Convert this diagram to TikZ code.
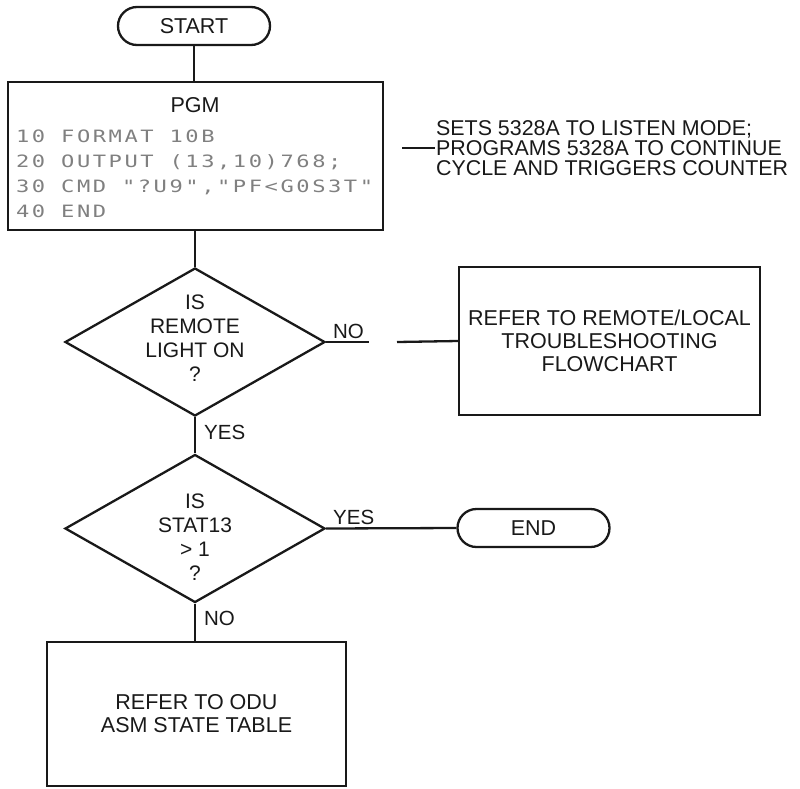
\documentclass[tikz,border=0pt]{standalone}
\usepackage{fontspec}
\setmainfont{Liberation Sans}
\newfontfamily\codefont{DejaVu Sans Mono}[FakeStretch=1.3,LetterSpace=15]
\usepackage{tikz}
\usetikzlibrary{shapes.geometric}

\begin{document}
\begin{tikzpicture}[x=1pt, y=-1pt, line width=2.3pt, color=black!90,
  every node/.style={font=\fontsize{21.5}{23}\selectfont},
  term/.style={draw, rectangle, rounded corners=19pt, minimum width=152pt, minimum height=38pt, inner sep=0pt},
  box/.style={draw, rectangle, inner sep=0pt, align=center},
  decision/.style={draw, diamond, minimum width=260pt, minimum height=148pt, inner sep=0pt},
  asks/.style={align=center, font=\fontsize{21}{24}\selectfont},
  tag/.style={anchor=west, inner sep=0pt, font=\fontsize{20.5}{22}\selectfont}]
\useasboundingbox (0,0) rectangle (800,788);
\node[term] (start) at (194,26) {START};
\node[box, minimum width=375pt, minimum height=148pt] (pgm) at (195.5,156) {};
\node (pgmtitle) at (195,105) {PGM};
\node[anchor=west, align=left, inner sep=0pt, text=black!50, font=\codefont\fontsize{17}{25}\selectfont] (listing) at (15,174) {10 FORMAT 10B\\20 OUTPUT (13,10)768;\\30 CMD "?U9","PF<G0S3T"\\40 END};
\node[anchor=west, align=left, inner sep=0pt, font=\fontsize{21.4}{20}\selectfont] (note) at (435,148) {SETS 5328A TO LISTEN MODE;\\PROGRAMS 5328A TO CONTINUE\\CYCLE AND TRIGGERS COUNTER};
\coordinate (leader) at (402,148);
\node[decision, label={[asks, yshift=4pt]center:{IS\\REMOTE\\LIGHT ON\\?}}] (remote) at (195,342) {};
\node[box, minimum width=301pt, minimum height=148pt] (localbox) at (609.5,341) {REFER TO REMOTE/LOCAL\\TROUBLESHOOTING\\FLOWCHART};
\coordinate (noend) at (369,342);
\coordinate (nostart) at (397,342);
\node[decision, label={[asks, yshift=-9pt]center:{IS\\STAT13\\> 1\\?}}] (stat) at (195,528.5) {};
\node[term] (finish) at (533.5,528) {END};
\node[box, minimum width=299pt, minimum height=144pt] (odu) at (196.5,714) {REFER TO ODU\\ASM STATE TABLE};
\node[tag] (no1) at (332,331) {NO};
\node[tag] (yes1) at (203,432) {YES};
\node[tag] (yes2) at (332,517) {YES};
\node[tag] (no2) at (203,618) {NO};
\draw (start.south) -- (start.south |- pgm.north);
\draw (pgm.south -| remote.north) -- (remote.north);
\draw (leader) -- (note.west);
\draw (remote.east) -- (noend);
\draw (nostart) -- (localbox.west);
\draw (remote.south) -- (stat.north);
\draw (stat.east) -- (finish.west);
\draw (stat.south) -- (stat.south |- odu.north);
\end{tikzpicture}
\end{document}
